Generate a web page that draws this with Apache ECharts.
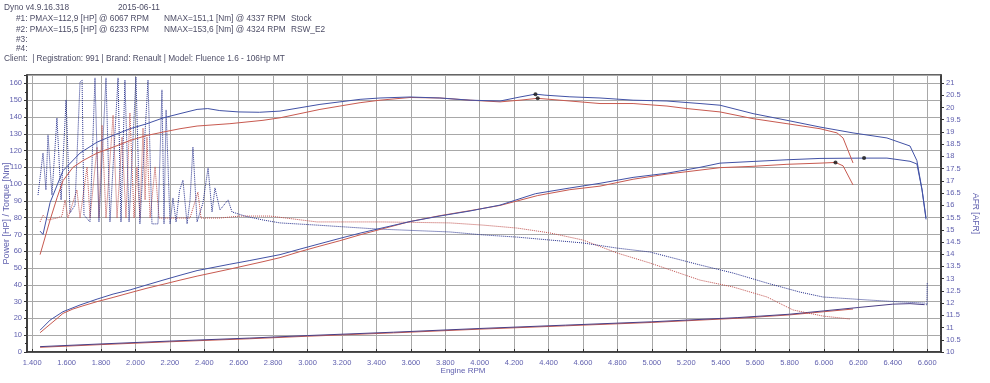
<!DOCTYPE html>
<html>
<head>
<meta charset="utf-8">
<script src="https://cdn.jsdelivr.net/npm/echarts@6/dist/echarts.min.js"></script>
<style>
  html, body { margin: 0; padding: 0; background: #fff; }
  #dom { width: 990px; height: 383px; }
</style>
</head>
<body>
<div id="dom"></div>
<script>
// rpm ticks on the x axis
const rpmTicks = [1400, 1600, 1800, 2000, 2200, 2400, 2600, 2800, 3000, 3200, 3400, 3600, 3800,
  4000, 4200, 4400, 4600, 4800, 5000, 5200, 5400, 5600, 5800, 6000, 6200, 6400, 6600];

// torque [Nm] vs rpm
const torqueStock = [[1446, 58], [1504, 78.6], [1545, 92], [1579, 102], [1637, 110], [1695, 114],
  [1777, 118.5], [1870, 122], [1969, 126], [2067, 129], [2160, 131], [2259, 133], [2358, 134.6],
  [2549, 136], [2741, 138], [2840, 139.5], [2956, 142], [3072, 144.5], [3188, 146.5],
  [3305, 148.5], [3421, 150], [3595, 151.6], [3769, 151.3], [3944, 150], [4118, 149],
  [4234, 150], [4337, 151.1], [4466, 150], [4699, 148], [4891, 148], [5088, 146.5],
  [5204, 145], [5396, 143], [5588, 139], [5785, 136], [5977, 133], [6076, 130.5],
  [6111, 127.5], [6169, 112.6]];
const torqueRsw = [[1446, 72], [1463, 70], [1504, 89], [1579, 108], [1678, 118.5], [1777, 125],
  [1870, 129], [1969, 133], [2067, 136], [2160, 139.4], [2259, 142], [2358, 144.5], [2420, 145],
  [2490, 143.8], [2600, 143], [2720, 142.8], [2840, 143.5], [2956, 145.5], [3072, 147.5],
  [3188, 149], [3305, 150.5], [3421, 151.3], [3595, 151.9], [3769, 151.3], [3944, 150],
  [4118, 149.5], [4234, 151.9], [4324, 153.6], [4379, 153], [4524, 152], [4699, 151.3],
  [4891, 150], [5088, 149.5], [5280, 148], [5396, 147], [5588, 142], [5785, 138], [5977, 134],
  [6169, 130.5], [6366, 127.5], [6500, 122.7], [6540, 114], [6570, 96.5], [6593, 80]];

// power [HP] vs rpm
const powerStock = [[1446, 11.5], [1504, 16.5], [1545, 20], [1579, 23], [1637, 25.6], [1695, 27.5],
  [1777, 30], [1870, 32.5], [1969, 35.3], [2067, 38], [2160, 40.3], [2259, 42.8], [2358, 45.2],
  [2549, 49.4], [2741, 53.8], [2840, 56.2], [2956, 59.8], [3072, 63.1], [3188, 66.3],
  [3305, 69.8], [3421, 73], [3595, 77.7], [3769, 81.2], [3944, 84.2], [4118, 87.3],
  [4337, 93.2], [4524, 96.7], [4699, 98.8], [4891, 102.9], [5088, 106], [5204, 107.4],
  [5396, 109.8], [5588, 110.6], [5785, 111.8], [5977, 112.5], [6067, 112.9], [6111, 110.9],
  [6169, 99.5]];
const powerRsw = [[1446, 13], [1504, 19], [1579, 24], [1678, 28], [1777, 31.5], [1870, 34.5],
  [1969, 37], [2067, 40], [2160, 42.8], [2259, 45.7], [2358, 48.5], [2549, 52.3], [2665, 54.5],
  [2840, 58], [2956, 61.3], [3072, 64.5], [3188, 67.7], [3305, 70.8], [3421, 73.6],
  [3595, 77.7], [3769, 81], [3944, 84], [4118, 87.5], [4324, 94.3], [4524, 97.7], [4699, 100.5],
  [4891, 104], [5088, 106.5], [5280, 110], [5396, 112.5], [5588, 113.5], [5785, 114.5],
  [5977, 115.3], [6233, 115.5], [6366, 115.5], [6500, 113.6], [6540, 112], [6570, 96.5],
  [6593, 79]];

// lower pair of curves (left axis)
const lowStock = [[1446, 2.8], [1800, 4.4], [2200, 6.1], [2665, 7.9], [3000, 9.4], [3500, 11.4],
  [4000, 13.6], [4500, 15.6], [5000, 17.6], [5500, 20.1], [5800, 22.1], [6000, 24], [6169, 25.6]];
const lowRsw = [[1446, 3.2], [1800, 4.8], [2200, 6.5], [2665, 8.3], [3000, 9.8], [3500, 11.8],
  [4000, 14], [4500, 16], [5000, 18], [5500, 20.5], [5800, 22.5], [6000, 24.5], [6200, 26.5],
  [6400, 28.5], [6500, 28.8], [6585, 28.2]];

// AFR vs rpm (right axis)
const afrStock = [[1446, 15.32], [1463, 15.6], [1492, 15.4], [1544, 15.48], [1573, 15.56],
  [1591, 16.22], [1608, 15.48], [1660, 16.63], [1678, 15.48], [1719, 17.57], [1736, 15.48],
  [1777, 18.38], [1788, 15.48], [1806, 19.28], [1829, 15.48], [1870, 19.69], [1893, 15.48],
  [1922, 18.79], [1945, 15.48], [1968, 19.78], [1992, 15.48], [2009, 17.57], [2026, 15.48],
  [2044, 19.16], [2056, 16.22], [2067, 18.79], [2085, 15.48], [2114, 17.57], [2137, 15.48],
  [2201, 15.48], [2317, 15.48], [2363, 16.54], [2381, 15.48], [2491, 15.48], [2607, 15.56],
  [2782, 15.56], [3055, 15.32], [3438, 15.32], [3827, 15.28], [4019, 15.19], [4216, 15.07],
  [4408, 14.87], [4600, 14.58], [4798, 14.05], [4989, 13.64], [5280, 12.94], [5472, 12.66],
  [5669, 12.25], [5820, 11.72], [5994, 11.47], [6151, 11.35]];
const afrRsw = [[1434, 16.42], [1463, 18.14], [1480, 16.63], [1492, 18.88], [1515, 16.42],
  [1544, 19.57], [1568, 16.22], [1597, 20.31], [1620, 15.69], [1649, 16.01], [1678, 21.04],
  [1690, 21.12], [1701, 15.6], [1736, 15.32], [1765, 21.21], [1788, 15.32], [1829, 21.21],
  [1852, 15.32], [1899, 21.21], [1916, 15.32], [1939, 21.12], [1963, 15.32], [2003, 21.25],
  [2026, 15.24], [2073, 21.12], [2096, 15.24], [2131, 15.24], [2154, 20.72], [2166, 15.24],
  [2178, 19.9], [2201, 15.24], [2218, 16.3], [2236, 15.32], [2256, 16.6], [2276, 17.03],
  [2300, 15.24], [2317, 16.2], [2334, 18.38], [2358, 15.32], [2392, 16.09], [2422, 17.53],
  [2445, 15.73], [2462, 16.71], [2491, 15.81], [2538, 16.22], [2561, 15.73], [2636, 15.56],
  [2741, 15.4], [2840, 15.28], [3055, 15.19], [3404, 15.03], [3827, 14.91], [4019, 14.79],
  [4216, 14.7], [4408, 14.58], [4600, 14.46], [4798, 14.25], [4989, 14.09], [5280, 13.56],
  [5472, 13.23], [5669, 12.82], [5861, 12.45], [5994, 12.25], [6250, 12.13], [6442, 12.05],
  [6585, 12.0], [6598, 11.92], [6600, 12.85]];

// peak markers: torque max and power max of each run
const peaks = [[4324, 153.6], [4337, 151.1], [6067, 112.9], [6233, 115.5]];

const RED = "#c85a50";
const BLUE = "#4252a6";
const LABEL = "#5f5fae";
const HEAD = "#4d4d66";
const FONT = "Liberation Sans, Arial, sans-serif";

function line(name, data, color, opts) {
  return Object.assign({
    name: name,
    type: "line",
    data: data,
    showSymbol: false,
    symbol: "none",
    silent: true,
    lineStyle: { color: color, width: 1 },
    z: 3,
  }, opts || {});
}

function headText(x, y, text) {
  return {
    type: "text", left: x, top: y - 3,
    style: { text: text, fill: HEAD, font: "8.3px " + FONT },
  };
}

let dom = echarts.init(document.getElementById("dom"));
let option = {
  animation: false,
  backgroundColor: "#fff",
  textStyle: { fontFamily: FONT },
  grid: {
    left: 27, right: 49, top: 75, bottom: 31,
    show: true, borderColor: "#333", borderWidth: 1.5,
    outerBoundsMode: "none",
  },
  graphic: [
    headText(4, 7, "Dyno v4.9.16.318"),
    headText(118, 7, "2015-06-11"),
    headText(16, 18, "#1: PMAX=112,9 [HP] @ 6067 RPM"),
    headText(164, 18, "NMAX=151,1 [Nm] @ 4337 RPM"),
    headText(291, 18, "Stock"),
    headText(16, 29, "#2: PMAX=115,5 [HP] @ 6233 RPM"),
    headText(164, 29, "NMAX=153,6 [Nm] @ 4324 RPM"),
    headText(291, 29, "RSW_E2"),
    headText(16, 39, "#3:"),
    headText(16, 48, "#4:"),
    headText(4, 58, "Client:  | Registration: 991 | Brand: Renault | Model: Fluence 1.6 - 106Hp MT"),
  ],
  xAxis: {
    type: "value",
    min: 1370,
    max: 6680,
    name: "Engine RPM",
    nameLocation: "middle",
    nameGap: 15,
    nameMoveOverlap: false,
    nameTextStyle: { color: LABEL, fontSize: 8, padding: [0, 42, 0, 0] },
    axisLine: { show: true, lineStyle: { color: "#333", width: 1.5 } },
    axisTick: { show: true, inside: true, length: 3, customValues: rpmTicks, lineStyle: { color: "#333" } },
    axisLabel: {
      customValues: rpmTicks,
      color: LABEL, fontSize: 7.5, margin: 7,
      formatter: (v) => (v / 1000).toFixed(3),
    },
    splitLine: { show: true, lineStyle: { color: "#a8a8a8", width: 1 } },
  },
  yAxis: [
    {
      type: "value",
      min: 0,
      max: 165,
      interval: 10,
      position: "left",
      name: "Power [HP] / Torque [Nm]",
      nameLocation: "middle",
      nameRotate: 90,
      nameGap: 16,
      nameMoveOverlap: false,
      nameTextStyle: { color: LABEL, fontSize: 9 },
      axisLine: { show: true, lineStyle: { color: "#333", width: 1.5 } },
      axisTick: { show: true, length: 3, lineStyle: { color: "#333" } },
      minorTick: { show: true, splitNumber: 2, length: 2, lineStyle: { color: "#333" } },
      axisLabel: { color: LABEL, fontSize: 7.5, margin: 5, showMaxLabel: false },
      splitLine: { show: true, lineStyle: { color: "#a8a8a8", width: 1 } },
    },
    {
      type: "value",
      min: 10,
      max: 21.33,
      interval: 0.5,
      position: "right",
      name: "AFR [AFR]",
      nameLocation: "middle",
      nameRotate: -90,
      nameGap: 30,
      nameMoveOverlap: false,
      nameTextStyle: { color: LABEL, fontSize: 8.5 },
      axisLine: { show: true, lineStyle: { color: "#333", width: 1.5 } },
      axisTick: { show: true, length: 3, lineStyle: { color: "#333" } },
      axisLabel: { color: LABEL, fontSize: 7.5, margin: 5, showMaxLabel: false },
      splitLine: { show: false },
    },
  ],
  series: [
    line("Low Stock", lowStock, RED),
    line("Low RSW_E2", lowRsw, "#4a3f86"),
    line("AFR Stock", afrStock, "#c0504d", { yAxisIndex: 1, lineStyle: { color: "#c0504d", width: 1, type: "dotted" } }),
    line("AFR RSW_E2", afrRsw, "#242e8c", { yAxisIndex: 1, lineStyle: { color: "#242e8c", width: 1, type: "dotted" } }),
    line("Power Stock", powerStock, RED),
    line("Power RSW_E2", powerRsw, BLUE),
    line("Torque Stock", torqueStock, RED),
    line("Torque RSW_E2", torqueRsw, BLUE),
    {
      name: "Peaks",
      type: "scatter",
      data: peaks,
      symbolSize: 4,
      itemStyle: { color: "#111" },
      silent: true,
      z: 5,
    },
  ],
};
dom.setOption(option);
</script>
</body>
</html>
